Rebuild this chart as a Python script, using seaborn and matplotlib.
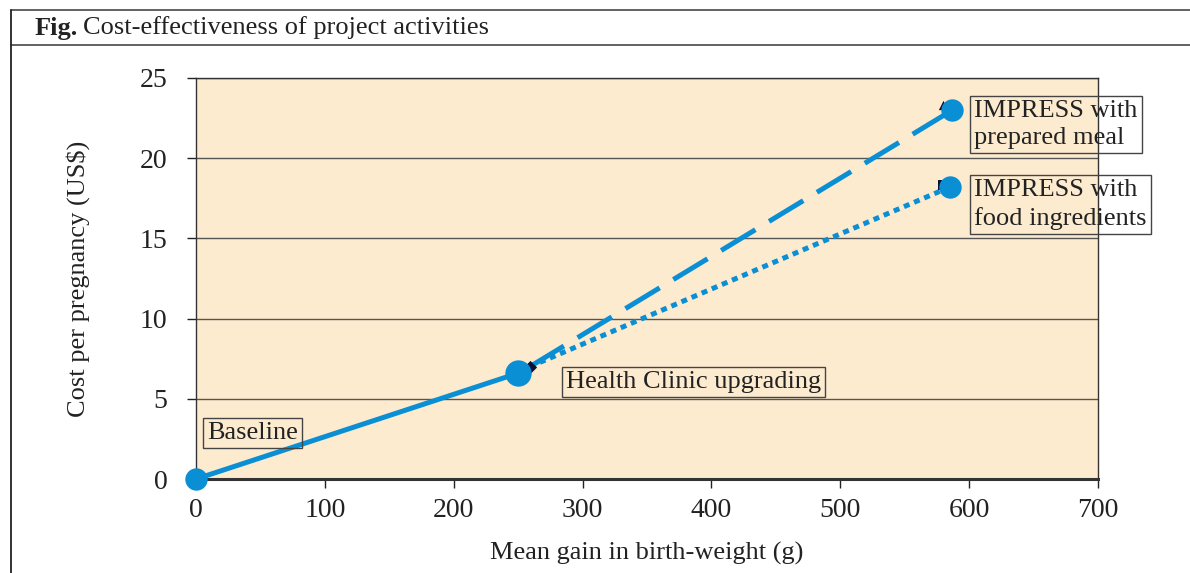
import matplotlib
matplotlib.use("Agg")
import matplotlib.pyplot as plt
from matplotlib.lines import Line2D
import seaborn as sns
import pandas as pd

# ---- data ----
labels = ["Baseline", "Health Clinic upgrading",
          "IMPRESS with\nprepared meal", "IMPRESS with\nfood ingredients"]
gain_g = [0, 250, 587, 585]          # blue circles
cost_usd = [0, 6.6, 23.0, 18.2]
marker_gain = [0, 259, 580, 580]     # small dark markers behind circles
marker_cost = [0, 7.0, 23.3, 18.3]
x_ticks = [0, 100, 200, 300, 400, 500, 600, 700]
y_ticks = [0, 5, 10, 15, 20, 25]

sns.set_theme(style="white")
plt.rcParams["font.family"] = ["Liberation Serif", "DejaVu Serif"]

BLUE = "#0a8fd5"
TXT = "#222222"
fig = plt.figure(figsize=(11.9, 5.73), dpi=100)
ax = fig.add_axes([0.1647, 0.164, 0.9227 - 0.1647, 0.8639 - 0.164])
ax.set_facecolor("#fdebd0")

df = pd.DataFrame({"gain": gain_g, "cost": cost_usd, "label": labels})
dm = pd.DataFrame({"gain": marker_gain, "cost": marker_cost})

# solid: baseline -> clinic
seg_solid = df.iloc[[0, 1]]
sns.lineplot(data=seg_solid, x="gain", y="cost", ax=ax, color=BLUE, lw=3.6,
             sort=False, zorder=3)
# dashed: clinic -> prepared meal
seg_dash = pd.DataFrame({"gain": [dm.gain[1], df.gain[2]], "cost": [dm.cost[1], df.cost[2]]})
sns.lineplot(data=seg_dash, x="gain", y="cost", ax=ax, color=BLUE, lw=3.6,
             sort=False, zorder=3)
ax.lines[-1].set_dashes((8, 3.2))
# dotted: clinic -> food ingredients
seg_dot = pd.DataFrame({"gain": [dm.gain[1], df.gain[3]], "cost": [dm.cost[1], df.cost[3]]})
sns.lineplot(data=seg_dot, x="gain", y="cost", ax=ax, color=BLUE, lw=3.6,
             sort=False, zorder=3)
ax.lines[-1].set_dashes((1.2, 1.0))

# small dark markers (original Excel series markers)
for i, m in zip(range(4), ["^", "D", "^", "s"]):
    ax.scatter([dm.gain[i]], [dm.cost[i]], marker=m, s=45, color="#111133",
               zorder=4, clip_on=False, linewidths=0)

# blue circles
sns.scatterplot(data=df, x="gain", y="cost", ax=ax, color=BLUE, s=260,
                edgecolor=BLUE, linewidth=0, zorder=5, clip_on=False)
ax.scatter([df.gain[1]], [df.cost[1]], s=360, color=BLUE, zorder=5, linewidths=0)

# labels with boxes
label_pos = [(8.5, 2.87), (287, 6.05), (604, 22.1), (604, 17.1)]
for lab, (lx, ly) in zip(labels, label_pos):
    ax.text(lx, ly, lab, fontsize=19, va="center", ha="left", color=TXT,
            linespacing=1.35, zorder=6, clip_on=False,
            bbox=dict(boxstyle="square,pad=0.15", fc="none", ec="#444444", lw=1.0))

ax.set_xlim(0, 700)
ax.set_ylim(0, 25)
ax.set_xticks(x_ticks)
ax.set_yticks(y_ticks)
ax.set_xticklabels([str(v) for v in x_ticks])
ax.set_yticklabels([str(v) for v in y_ticks])
ax.tick_params(axis="both", labelsize=20, colors=TXT, direction="out",
               length=6.5, width=1.0)
ax.tick_params(axis="x", pad=7, bottom=True)
ax.tick_params(axis="y", pad=14, left=True)
ax.yaxis.grid(True, color="#555555", lw=1.0)
ax.xaxis.grid(False)
ax.set_axisbelow(True)
for side, sp in ax.spines.items():
    sp.set_visible(True)
    sp.set_color("#333333")
    sp.set_linewidth(1.0)
ax.spines["bottom"].set_linewidth(2.2)

ax.set_xlabel("Mean gain in birth-weight (g)", fontsize=19, color=TXT, labelpad=14)
ax.set_ylabel("Cost per pregnancy (US$)", fontsize=19, color=TXT, labelpad=36)

# figure frame and title band
fc = "#555555"
fig.add_artist(Line2D([11 / 1190, 1], [1 - 10 / 573] * 2, color=fc, lw=1.3, transform=fig.transFigure))
fig.add_artist(Line2D([11 / 1190, 1], [1 - 45 / 573] * 2, color=fc, lw=1.3, transform=fig.transFigure))
fig.add_artist(Line2D([11 / 1190] * 2, [0, 1 - 10 / 573], color=TXT, lw=1.3, transform=fig.transFigure))

t1 = fig.text(35 / 1190, 1 - 28 / 573, "Fig.", fontsize=19, fontweight="bold",
              va="center", ha="left", color=TXT)
fig.canvas.draw()
bb = t1.get_window_extent()
fig.text((bb.x1 + 5) / 1190, 1 - 28 / 573, "Cost-effectiveness of project activities",
         fontsize=19, va="center", ha="left", color=TXT)

fig.savefig("out.png", dpi=100)
